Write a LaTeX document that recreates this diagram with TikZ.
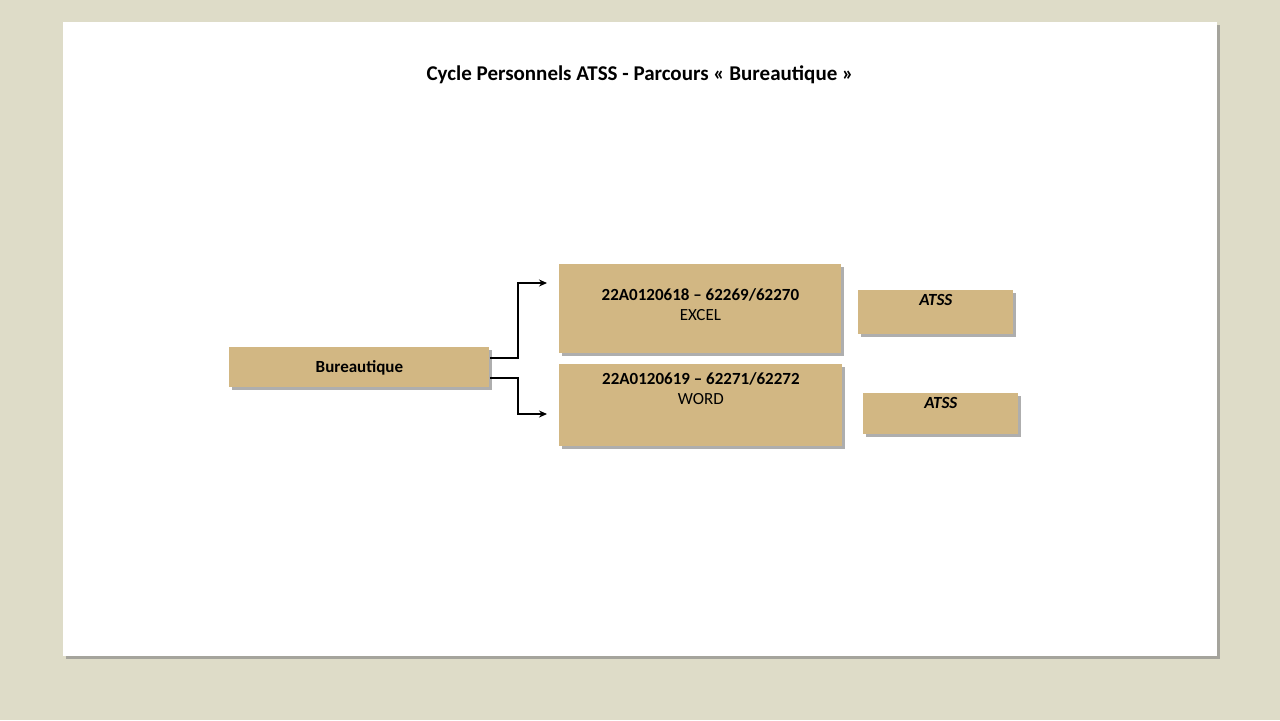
\documentclass[tikz,border=0pt]{standalone}
\usepackage{fontspec}
\setmainfont{Carlito}
\usetikzlibrary{shadows,arrows.meta}
\definecolor{tan}{HTML}{D2B783}
\definecolor{bgc}{HTML}{DEDCC8}
\tikzset{
  box/.style={fill=tan,anchor=north west,inner sep=0pt,
    drop shadow={shadow xshift=1.5pt,shadow yshift=-1.5pt,fill=black!45,opacity=.7}},
  txt/.style={below,align=center,font=\fontsize{8.5}{10}\selectfont,inner sep=1pt},
  link/.style={line width=0.8pt,-{Stealth[length=4pt,width=3.5pt]}}
}
\begin{document}
\begin{tikzpicture}[x=0.5pt,y=-0.5pt]
\fill[bgc] (0,0) rectangle (1280,720);
\node[anchor=north west,inner sep=0pt,minimum width=577pt,minimum height=317pt,fill=white,
  drop shadow={shadow xshift=1.5pt,shadow yshift=-1.5pt,fill=black!50,opacity=.6}] (slide) at (63,22) {};
\node[font=\bfseries\fontsize{10.5}{12}\selectfont] (title) at (640,75) {Cycle Personnels ATSS - Parcours « Bureautique »};
% boxes
\node[box,minimum width=130pt,minimum height=20pt] (bur) at (229,347) {};
\node[font=\bfseries\fontsize{8.5}{10}\selectfont] at (bur.center) {Bureautique};
\node[box,minimum width=141pt,minimum height=44.5pt] (excel) at (559,264) {};
\node[txt,yshift=-11pt] at (excel.north) {\textbf{22A0120618 – 62269/62270}\\EXCEL};
\node[box,minimum width=141.5pt,minimum height=41pt] (word) at (559,364) {};
\node[txt,yshift=-3pt] at (word.north) {\textbf{22A0120619 – 62271/62272}\\WORD};
\node[box,minimum width=77.5pt,minimum height=22pt] (atssa) at (858,290) {};
\node[txt,yshift=-1pt] at (atssa.north) {\textbf{\itshape ATSS}};
\node[box,minimum width=77.5pt,minimum height=20.5pt] (atssb) at (863,393) {};
\node[txt,yshift=-1pt] at (atssb.north) {\textbf{\itshape ATSS}};
% connectors
\coordinate (ea) at (547,283);
\coordinate (wa) at (547,414);
\draw[link] (bur.east |- 0,358) -| (518,283) -- (ea);
\draw[link] (bur.east |- 0,378) -| (518,414) -- (wa);
\end{tikzpicture}
\end{document}
